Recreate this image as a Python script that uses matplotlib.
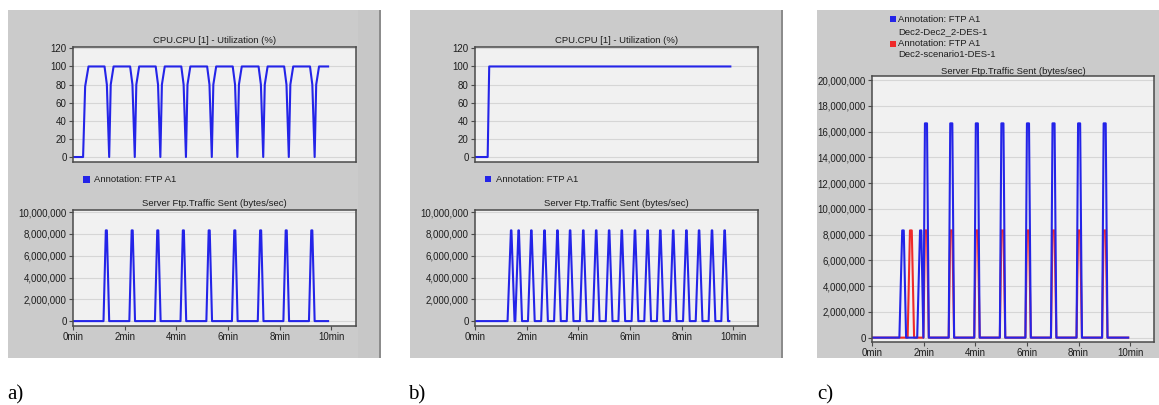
import matplotlib.pyplot as plt
from matplotlib.patches import Rectangle
from matplotlib.ticker import FuncFormatter

plt.rcParams['font.family'] = ['Liberation Sans', 'DejaVu Sans']

# ---------------- Data (minutes / % / bytes per sec) ----------------
x_tick_values = [0, 2, 4, 6, 8, 10]
x_tick_labels = ['0min', '2min', '4min', '6min', '8min', '10min']
cpu_ticks = [0, 20, 40, 60, 80, 100, 120]
ftp_ticks_ab = [0, 2e6, 4e6, 6e6, 8e6, 10e6]
ftp_ticks_c = [0, 2e6, 4e6, 6e6, 8e6, 10e6, 12e6, 14e6, 16e6, 18e6, 20e6]

cpu_a_time = [0.00, 0.39, 0.47, 0.60,
              1.22, 1.31, 1.40, 1.46, 1.57,
              2.21, 2.30, 2.39, 2.45, 2.56,
              3.20, 3.29, 3.38, 3.44, 3.55,
              4.19, 4.28, 4.37, 4.43, 4.54,
              5.19, 5.28, 5.37, 5.43, 5.54,
              6.18, 6.27, 6.36, 6.42, 6.53,
              7.18, 7.27, 7.36, 7.42, 7.53,
              8.17, 8.26, 8.35, 8.41, 8.52,
              9.17, 9.26, 9.35, 9.41, 9.52,
              9.87]
cpu_a_util = [0, 0, 78, 100,
              100, 80, 0, 80, 100,
              100, 80, 0, 80, 100,
              100, 80, 0, 80, 100,
              100, 80, 0, 80, 100,
              100, 80, 0, 80, 100,
              100, 80, 0, 80, 100,
              100, 80, 0, 80, 100,
              100, 80, 0, 80, 100,
              100, 80, 0, 80, 100,
              100]

ftp_a_time = [0.00,
              1.18, 1.27, 1.31, 1.40,
              2.18, 2.27, 2.31, 2.40,
              3.17, 3.26, 3.30, 3.39,
              4.16, 4.25, 4.29, 4.38,
              5.16, 5.25, 5.29, 5.38,
              6.15, 6.24, 6.28, 6.37,
              7.15, 7.24, 7.28, 7.37,
              8.14, 8.23, 8.27, 8.36,
              9.13, 9.22, 9.26, 9.35,
              9.87]
ftp_a_rate = [0,
              0, 8.33e6, 8.33e6, 0,
              0, 8.33e6, 8.33e6, 0,
              0, 8.33e6, 8.33e6, 0,
              0, 8.33e6, 8.33e6, 0,
              0, 8.33e6, 8.33e6, 0,
              0, 8.33e6, 8.33e6, 0,
              0, 8.33e6, 8.33e6, 0,
              0, 8.33e6, 8.33e6, 0,
              0, 8.33e6, 8.33e6, 0,
              0]

cpu_b_time = [0.00, 0.49, 0.55, 9.88]
cpu_b_util = [0, 0, 100, 100]

ftp_b_time = [0.00,
              1.26, 1.39, 1.41, 1.53,
              1.56, 1.68, 1.70, 1.82,
              2.05, 2.17, 2.19, 2.31,
              2.56, 2.68, 2.70, 2.82,
              3.06, 3.18, 3.20, 3.32,
              3.55, 3.67, 3.69, 3.81,
              4.06, 4.18, 4.20, 4.32,
              4.56, 4.68, 4.70, 4.82,
              5.06, 5.18, 5.20, 5.32,
              5.55, 5.67, 5.69, 5.81,
              6.06, 6.18, 6.20, 6.32,
              6.55, 6.67, 6.69, 6.81,
              7.04, 7.16, 7.18, 7.30,
              7.54, 7.66, 7.68, 7.80,
              8.05, 8.17, 8.19, 8.31,
              8.54, 8.66, 8.68, 8.80,
              9.04, 9.16, 9.18, 9.30,
              9.53, 9.65, 9.67, 9.79,
              9.84]
ftp_b_rate = [0,
              0, 8.33e6, 8.33e6, 0,
              0, 8.33e6, 8.33e6, 0,
              0, 8.33e6, 8.33e6, 0,
              0, 8.33e6, 8.33e6, 0,
              0, 8.33e6, 8.33e6, 0,
              0, 8.33e6, 8.33e6, 0,
              0, 8.33e6, 8.33e6, 0,
              0, 8.33e6, 8.33e6, 0,
              0, 8.33e6, 8.33e6, 0,
              0, 8.33e6, 8.33e6, 0,
              0, 8.33e6, 8.33e6, 0,
              0, 8.33e6, 8.33e6, 0,
              0, 8.33e6, 8.33e6, 0,
              0, 8.33e6, 8.33e6, 0,
              0, 8.33e6, 8.33e6, 0,
              0, 8.33e6, 8.33e6, 0,
              0, 8.33e6, 8.33e6, 0,
              0, 8.33e6, 8.33e6, 0,
              0]

# Dec2-Dec2_2-DES-1 (blue)
ftp_c_blue_time = [0.00,
                   1.06, 1.17, 1.23, 1.32,
                   1.75, 1.86, 1.91, 1.99,
                   2.05, 2.13, 2.20,
                   2.97, 3.03, 3.11, 3.18,
                   3.96, 4.02, 4.10, 4.17,
                   4.95, 5.01, 5.09, 5.16,
                   5.94, 6.00, 6.08, 6.15,
                   6.93, 6.99, 7.07, 7.14,
                   7.92, 7.98, 8.06, 8.13,
                   8.91, 8.97, 9.05, 9.12,
                   9.92]
ftp_c_blue_rate = [0,
                   0, 8.33e6, 8.33e6, 0,
                   0, 8.33e6, 8.33e6, 0,
                   16.65e6, 16.65e6, 0,
                   0, 16.65e6, 16.65e6, 0,
                   0, 16.65e6, 16.65e6, 0,
                   0, 16.65e6, 16.65e6, 0,
                   0, 16.65e6, 16.65e6, 0,
                   0, 16.65e6, 16.65e6, 0,
                   0, 16.65e6, 16.65e6, 0,
                   0, 16.65e6, 16.65e6, 0,
                   0]

# Dec2-scenario1-DES-1 (red)
ftp_c_red_time = [0.00,
                  1.38, 1.47, 1.54, 1.63,
                  1.99, 2.05, 2.13, 2.20,
                  2.97, 3.03, 3.11, 3.18,
                  3.96, 4.02, 4.10, 4.17,
                  4.95, 5.01, 5.09, 5.16,
                  5.94, 6.00, 6.08, 6.15,
                  6.93, 6.99, 7.07, 7.14,
                  7.92, 7.98, 8.06, 8.13,
                  8.91, 8.97, 9.05, 9.12,
                  9.92]
ftp_c_red_rate = [0,
                  0, 8.33e6, 8.33e6, 0,
                  0, 8.33e6, 8.33e6, 0,
                  0, 8.33e6, 8.33e6, 0,
                  0, 8.33e6, 8.33e6, 0,
                  0, 8.33e6, 8.33e6, 0,
                  0, 8.33e6, 8.33e6, 0,
                  0, 8.33e6, 8.33e6, 0,
                  0, 8.33e6, 8.33e6, 0,
                  0, 8.33e6, 8.33e6, 0,
                  0]

cpu_title = 'CPU.CPU [1] - Utilization (%)'
ftp_title = 'Server Ftp.Traffic Sent (bytes/sec)'
legend_label = 'Annotation: FTP A1'
run_blue = 'Dec2-Dec2_2-DES-1'
run_red = 'Dec2-scenario1-DES-1'
panel_labels = ['a)', 'b)', 'c)']

# ---------------- Layout (pixels) ----------------
W, H = 1159, 405
BLUE = '#2424e8'
RED = '#ef2a2a'
GRAY = '#cbcbcb'

fig = plt.figure(figsize=(W / 100, H / 100), dpi=100)
fig.patch.set_facecolor('white')


def rect(x0, y0, x1, y1, color, z=0):
    fig.add_artist(Rectangle((x0 / W, 1 - y1 / H), (x1 - x0) / W, (y1 - y0) / H,
                             transform=fig.transFigure, facecolor=color,
                             edgecolor='none', zorder=z))


def axes_px(x0, y0, x1, y1):
    return fig.add_axes([x0 / W, 1 - y1 / H, (x1 - x0) / W, (y1 - y0) / H])


def text_px(x, y, s, **kw):
    fig.text(x / W, 1 - y / H, s, **kw)


def style(ax, ylim, yticks, title, xmax, show_x=True, pad=3.0):
    ax.set_facecolor('#f1f1f1')
    ax.set_xlim(0, xmax)
    ax.set_ylim(*ylim)
    ax.set_yticks(yticks)
    ax.yaxis.set_major_formatter(FuncFormatter(lambda v, p: f'{v:,.0f}'))
    ax.yaxis.grid(True, color='#d6d6d6', lw=0.8)
    ax.set_axisbelow(True)
    for s in ax.spines.values():
        s.set_color('#4a4a4a')
        s.set_linewidth(1.1)
    ax.tick_params(length=3, width=0.8, color='#4a4a4a', labelsize=7,
                   pad=1.5, labelcolor='#1e1e1e')
    if show_x:
        ax.set_xticks(x_tick_values)
        ax.set_xticklabels(x_tick_labels)
    else:
        ax.set_xticks([])
    ax.set_title(title, fontsize=6.8, pad=pad, color='#1e1e1e')


# gray panels
rect(8, 10, 380, 358, GRAY)
rect(358, 10, 379, 358, '#c7c7c7')
rect(379, 10, 381, 358, '#8c8c8c')
rect(410, 10, 782, 358, GRAY)
rect(781, 10, 783, 358, '#8c8c8c')
rect(817, 10, W, 358, GRAY)

# ---- a) ----
ax = axes_px(73, 47, 356, 162)
ax.plot(cpu_a_time, cpu_a_util, color=BLUE, lw=1.5)
style(ax, (-5.5, 121.5), cpu_ticks, cpu_title, 10.95, show_x=False)

ax = axes_px(73, 210, 356, 326)
ax.plot(ftp_a_time, ftp_a_rate, color=BLUE, lw=1.5)
style(ax, (-0.45e6, 10.2e6), ftp_ticks_ab, ftp_title, 10.95)

rect(83, 176, 90, 183, BLUE, z=3)
text_px(94, 179.5, legend_label, fontsize=6.8, va='center', color='#1e1e1e')

# ---- b) ----
ax = axes_px(475, 47, 758, 162)
ax.plot(cpu_b_time, cpu_b_util, color=BLUE, lw=1.5)
style(ax, (-5.5, 121.5), cpu_ticks, cpu_title, 10.95, show_x=False)

ax = axes_px(475, 210, 758, 326)
ax.plot(ftp_b_time, ftp_b_rate, color=BLUE, lw=1.5)
style(ax, (-0.45e6, 10.2e6), ftp_ticks_ab, ftp_title, 10.95)

rect(485, 176, 491, 182, BLUE, z=3)
text_px(496, 179.5, legend_label, fontsize=6.8, va='center', color='#1e1e1e')

# ---- c) ----
ax = axes_px(872, 76, 1154, 342)
ax.plot(ftp_c_red_time, ftp_c_red_rate, color=RED, lw=1.5)
ax.plot(ftp_c_blue_time, ftp_c_blue_rate, color=BLUE, lw=1.5)
style(ax, (-0.34e6, 20.33e6), ftp_ticks_c, ftp_title, 10.92, pad=1.2)

rect(890, 16, 896, 22, BLUE, z=3)
rect(890, 41, 896, 47, RED, z=3)
text_px(898, 19, legend_label, fontsize=6.8, va='center', color='#1e1e1e')
text_px(898, 31.5, run_blue, fontsize=6.8, va='center', color='#1e1e1e')
text_px(898, 43.5, legend_label, fontsize=6.8, va='center', color='#1e1e1e')
text_px(898, 54.5, run_red, fontsize=6.8, va='center', color='#1e1e1e')

# panel labels
for x, lab in zip([7, 408, 817], panel_labels):
    text_px(x, 399, lab, fontsize=15, va='baseline', family='Liberation Serif')

fig.savefig('out.png', dpi=100, facecolor='white')
